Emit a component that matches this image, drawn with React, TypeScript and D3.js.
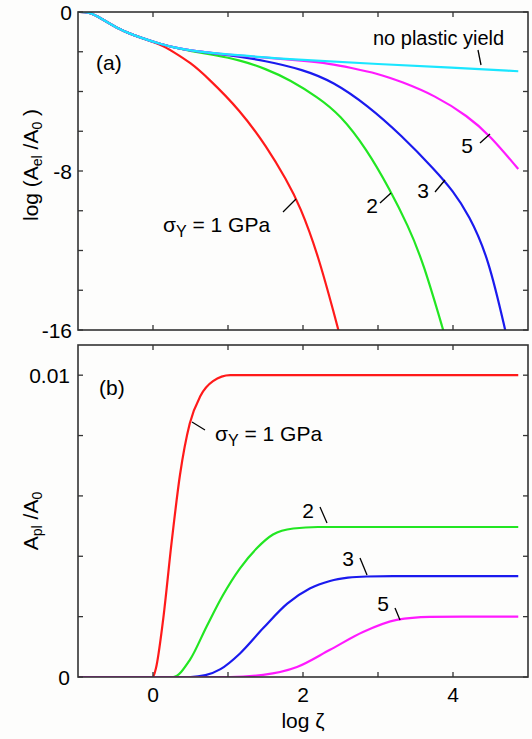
import React from "react";
import * as d3 from "d3";

type P = [number, number];

// Panel (a): log(A_el/A_0) vs log zeta
const elRed: P[] = [[-1,0],[-0.85,0],[-0.7,-0.3],[-0.44,-0.9],[-0.2,-1.25],[0.1,-1.62],[0.27,-2.0],[0.5,-2.55],[0.72,-3.27],[1.16,-4.93],[1.52,-6.8],[1.78,-8.45],[1.96,-9.75],[2.2,-12.2],[2.43,-15.4],[2.5,-16.4]];
const elGreen: P[] = [[-1,0],[-0.85,0],[-0.7,-0.3],[-0.44,-0.9],[-0.2,-1.25],[0.1,-1.62],[0.3,-1.8],[0.5,-1.96],[0.8,-2.15],[1.16,-2.42],[1.5,-2.85],[1.83,-3.42],[2.2,-4.3],[2.49,-5.15],[2.85,-6.9],[3.16,-8.95],[3.4,-10.75],[3.6,-12.55],[3.9,-16.4]];
const elBlue: P[] = [[-1,0],[-0.85,0],[-0.7,-0.3],[-0.44,-0.9],[-0.2,-1.25],[0.1,-1.62],[0.3,-1.8],[0.5,-1.95],[1.0,-2.16],[1.5,-2.45],[2.0,-2.9],[2.4,-3.5],[2.86,-4.7],[3.31,-6.2],[3.76,-7.95],[4.0,-9.0],[4.21,-10.2],[4.47,-12.3],[4.72,-16.4]];
const elMagenta: P[] = [[-1,0],[-0.85,0],[-0.7,-0.3],[-0.44,-0.9],[-0.2,-1.25],[0.1,-1.62],[0.3,-1.8],[0.5,-1.95],[1.0,-2.15],[1.5,-2.3],[2.0,-2.45],[2.36,-2.6],[2.63,-2.8],[3.0,-3.1],[3.31,-3.5],[3.76,-4.2],[4.2,-5.25],[4.49,-6.2],[4.87,-7.9]];
const elCyan: P[] = [[-1,0],[-0.85,0],[-0.7,-0.3],[-0.44,-0.9],[-0.2,-1.25],[0.1,-1.62],[0.3,-1.8],[0.5,-1.95],[1.0,-2.15],[2.0,-2.42],[3.0,-2.62],[4.0,-2.8],[4.87,-2.98]];

// Panel (b): A_pl/A_0 vs log zeta
const plRed: P[] = [[-1,0],[0,0],[0.04,0.0003],[0.13,0.0018],[0.25,0.0045],[0.36,0.0067],[0.49,0.0084],[0.63,0.0093],[0.8,0.0098],[1.03,0.01],[2,0.01],[4.87,0.01]];
const plGreen: P[] = [[-1,0],[0.27,0],[0.49,0.00056],[0.72,0.0017],[0.93,0.0027],[1.16,0.0036],[1.39,0.00428],[1.6,0.00472],[1.87,0.00492],[2.2,0.00497],[4.87,0.00497]];
const plBlue: P[] = [[-1,0],[0.5,0],[0.7,0.00006],[0.9,0.00026],[1.16,0.00078],[1.47,0.00162],[1.79,0.00243],[2.09,0.00293],[2.36,0.00318],[2.6,0.00329],[2.85,0.00333],[3.2,0.00334],[4.87,0.00334]];
const plMagenta: P[] = [[-1,0],[1.03,0],[1.47,0.00007],[1.92,0.00033],[2.36,0.0009],[2.8,0.00149],[3.25,0.00189],[3.69,0.00199],[4.13,0.002],[4.87,0.002]];

const xTicks = [0, 1, 2, 3, 4];
const xTickLabels = ["0", "2", "4"];
const aTicks = [0, -2, -4, -6, -8, -10, -12, -14, -16];
const aTickLabels = ["0", "-8", "-16"];
const bTicks = [0, 0.002, 0.004, 0.006, 0.008, 0.01];
const bTickLabels = ["0", "0.01"];

const RED = "#ff1a1a";
const GREEN = "#22e622";
const BLUE = "#1a1aee";
const MAGENTA = "#ff1aff";
const CYAN = "#1ae6ff";
const FONT = "'Liberation Sans', Arial, Helvetica, sans-serif";

export default function App() {
  const L = 78, R = 528;
  const aTop = 12, aBot = 330;
  const bTop = 345, bBot = 677;
  const x = d3.scaleLinear().domain([-1, 5]).range([L, R]);
  const ya = d3.scaleLinear().domain([-16, 0]).range([aBot, aTop]);
  const yb = d3.scaleLinear().domain([0, 0.011]).range([bBot, bTop]);
  const lineA = d3.line<P>().x(d => x(d[0])).y(d => ya(d[1])).curve(d3.curveBasis);
  const lineB = d3.line<P>().x(d => x(d[0])).y(d => yb(d[1])).curve(d3.curveMonotoneX);
  const tk = 5;
  const frame = "#333";
  const fs = 21;

  const seriesA: [P[], string][] = [[elRed, RED], [elGreen, GREEN], [elBlue, BLUE], [elMagenta, MAGENTA], [elCyan, CYAN]];
  const seriesB: [P[], string][] = [[plRed, RED], [plGreen, GREEN], [plBlue, BLUE], [plMagenta, MAGENTA]];

  const leader = (x1: number, y1: number, x2: number, y2: number, k: string) => (
    <line key={k} x1={x1} y1={y1} x2={x2} y2={y2} stroke="#000" strokeWidth={1.3} />
  );

  return (
    <svg width={532} height={739} style={{ position: "absolute", left: 0, top: 0, background: "#fdfdfc" }} fontFamily={FONT}>
      <defs>
        <clipPath id="clipA"><rect x={L} y={aTop} width={R - L} height={aBot - aTop} /></clipPath>
        <clipPath id="clipB"><rect x={L} y={bTop} width={R - L} height={bBot - bTop} /></clipPath>
      </defs>
      <rect x={0} y={0} width={532} height={739} fill="#fdfdfc" />

      {/* Panel (a) */}
      <g clipPath="url(#clipA)">
        {seriesA.map(([d, c], i) => (
          <path key={i} d={lineA(d) || ""} fill="none" stroke={c} strokeWidth={2.2} />
        ))}
      </g>
      <rect x={L} y={aTop} width={R - L} height={aBot - aTop} fill="none" stroke={frame} strokeWidth={1.6} />
      {aTicks.map(t => (
        <g key={t}>
          <line x1={L} x2={L + tk} y1={ya(t)} y2={ya(t)} stroke={frame} strokeWidth={1.3} />
          <line x1={R} x2={R - tk} y1={ya(t)} y2={ya(t)} stroke={frame} strokeWidth={1.3} />
        </g>
      ))}
      {xTicks.map(t => (
        <g key={t}>
          <line x1={x(t)} x2={x(t)} y1={aTop} y2={aTop + tk} stroke={frame} strokeWidth={1.3} />
          <line x1={x(t)} x2={x(t)} y1={aBot} y2={aBot - tk} stroke={frame} strokeWidth={1.3} />
        </g>
      ))}
      {aTickLabels.map(s => (
        <text key={s} x={L - 6} y={ya(+s)} dy="0.36em" textAnchor="end" fontSize={fs}>{s}</text>
      ))}
      <text x={96} y={70} fontSize={fs}>(a)</text>
      <text transform={`translate(38,165) rotate(-90)`} textAnchor="middle" fontSize={fs}>
        log (A<tspan fontSize={14} dy={4}>el</tspan><tspan dy={-4}> /A</tspan><tspan fontSize={14} dy={4}>0</tspan><tspan dy={-4}> )</tspan>
      </text>
      <text x={373} y={45} fontSize={20}>no plastic yield</text>
      {leader(478, 50, 481, 65, "l0")}
      <text x={467} y={145} dy="0.36em" textAnchor="middle" fontSize={fs}>5</text>
      {leader(480, 143, 490, 134, "l5")}
      <text x={423} y={190} dy="0.36em" textAnchor="middle" fontSize={fs}>3</text>
      {leader(435, 192, 445, 180, "l3")}
      <text x={372} y={205} dy="0.36em" textAnchor="middle" fontSize={fs}>2</text>
      {leader(380, 203, 391, 193, "l2")}
      <text x={163} y={232} fontSize={fs}>σ<tspan fontSize={16} dy={5}>Y</tspan><tspan dy={-5}> = 1 GPa</tspan></text>
      {leader(283, 212, 296, 199, "l1")}

      {/* Panel (b) */}
      <g clipPath="url(#clipB)">
        {seriesB.map(([d, c], i) => (
          <path key={i} d={lineB(d) || ""} fill="none" stroke={c} strokeWidth={2.2} />
        ))}
      </g>
      <rect x={L} y={bTop} width={R - L} height={bBot - bTop} fill="none" stroke={frame} strokeWidth={1.6} />
      {bTicks.map(t => (
        <g key={t}>
          <line x1={L} x2={L + tk} y1={yb(t)} y2={yb(t)} stroke={frame} strokeWidth={1.3} />
          <line x1={R} x2={R - tk} y1={yb(t)} y2={yb(t)} stroke={frame} strokeWidth={1.3} />
        </g>
      ))}
      {xTicks.map(t => (
        <g key={t}>
          <line x1={x(t)} x2={x(t)} y1={bTop} y2={bTop + tk} stroke={frame} strokeWidth={1.3} />
          <line x1={x(t)} x2={x(t)} y1={bBot} y2={bBot - tk} stroke={frame} strokeWidth={1.3} />
        </g>
      ))}
      {bTickLabels.map(s => (
        <text key={s} x={L - 8} y={yb(+s)} dy="0.36em" textAnchor="end" fontSize={fs}>{s}</text>
      ))}
      {xTickLabels.map(s => (
        <text key={s} x={x(+s)} y={702} textAnchor="middle" fontSize={fs}>{s}</text>
      ))}
      <text x={x(2)} y={728} textAnchor="middle" fontSize={fs}>log ζ</text>
      <text x={99} y={395} fontSize={fs}>(b)</text>
      <text transform={`translate(38,521) rotate(-90)`} textAnchor="middle" fontSize={fs}>
        A<tspan fontSize={14} dy={4}>pl</tspan><tspan dy={-4}> /A</tspan><tspan fontSize={14} dy={4}>0</tspan>
      </text>
      <text x={215} y={441} fontSize={fs}>σ<tspan fontSize={16} dy={5}>Y</tspan><tspan dy={-5}> = 1 GPa</tspan></text>
      {leader(192, 422, 205, 430, "m1")}
      <text x={308} y={510} dy="0.36em" textAnchor="middle" fontSize={fs}>2</text>
      {leader(320, 507, 327, 523, "m2")}
      <text x={348} y={558} dy="0.36em" textAnchor="middle" fontSize={fs}>3</text>
      {leader(360, 558, 367, 575, "m3")}
      <text x={383} y={603} dy="0.36em" textAnchor="middle" fontSize={fs}>5</text>
      {leader(395, 608, 400, 620, "m5")}
    </svg>
  );
}
